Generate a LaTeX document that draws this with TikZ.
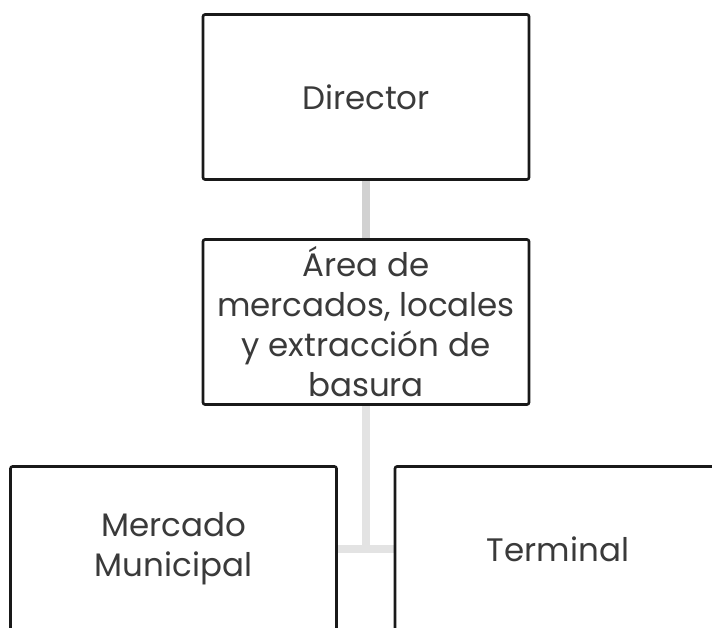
\documentclass[tikz,border=0pt]{standalone}
\usepackage{fontspec}
\setmainfont{Poppins}
\usetikzlibrary{backgrounds}
\definecolor{txt}{HTML}{3A3A3A}
\tikzset{
  orgbox/.style={draw=black!90, line width=2.6pt, rounded corners=2pt, fill=white,
    minimum width=326pt, minimum height=165pt, inner sep=0pt, align=center,
    text=txt, font=\fontsize{32.5}{40}\selectfont},
  linktop/.style={line width=8pt, draw=black!18},
  linkbot/.style={line width=8pt, draw=black!11}
}
\begin{document}
\begin{tikzpicture}[x=1pt,y=1pt]
\useasboundingbox (0,0) rectangle (712,627);
\clip (0,0) rectangle (712,627);
\node[orgbox] (dir) at (366,530) {Director};
\node[orgbox] (area) at (366,305) {Área de\\mercados, locales\\y extracción de\\basura};
\node[orgbox] (merc) at (173.5,78) {Mercado\\Municipal};
\node[orgbox] (term) at (558,78) {Terminal};
\begin{scope}[on background layer]
\draw[linktop] (dir.south) -- (area.north);
\draw[linkbot] (area.south) |- (merc.east);
\draw[linkbot] (area.south) |- (term.west);
\end{scope}
\end{tikzpicture}
\end{document}
